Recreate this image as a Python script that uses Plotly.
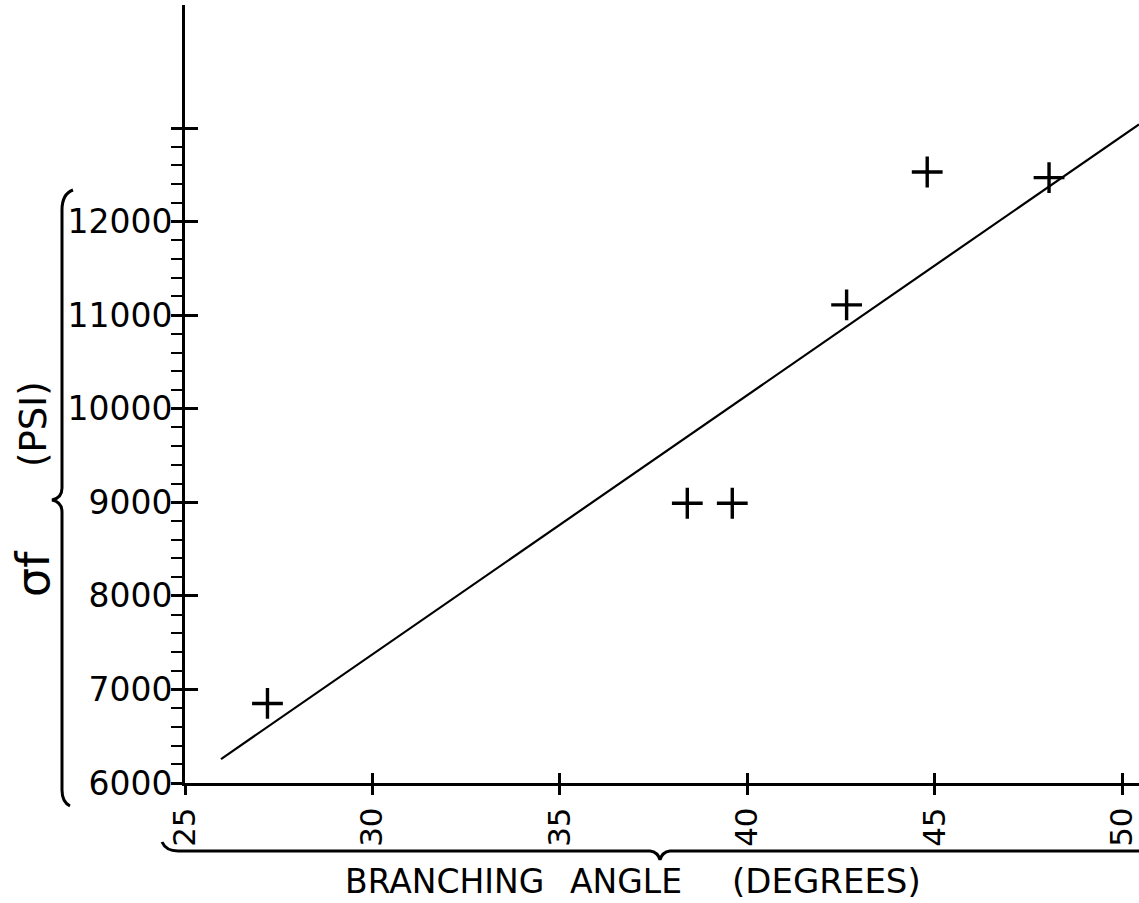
import plotly.graph_objects as go

# ---- data ----
angle_deg = [27.2, 38.4, 39.6, 42.65, 44.8, 48.05]
stress_psi = [6850, 8990, 8990, 11110, 12530, 12470]

fit_angle = [25.96, 50.45]
fit_stress = [6256, 13040]

x_ticks = [25, 30, 35, 40, 45, 50]
x_ticktext = ["25", "30", "35", "40", "45", "50"]
y_ticks = [6000, 7000, 8000, 9000, 10000, 11000, 12000, 13000]
y_ticktext = ["6000", "7000", "8000", "9000", "10000", "11000", "12000", ""]
y_minor = [v for v in range(6200, 13000, 200) if v % 1000 != 0]

X_RANGE = [25, 50.45]
Y_RANGE = [6000, 14315]

# ---- figure geometry (pixels) ----
W, H = 1139, 903
ML, MR, MT, MB = 185, 0, 5, 120
PW, PH = W - ML - MR, H - MT - MB


def px(xp):
    return (xp - ML) / PW


def py(yp):
    return (H - MB - yp) / PH


FONT = "DejaVu Sans"

fig = go.Figure()
fig.add_trace(go.Scatter(x=fit_angle, y=fit_stress, mode="lines",
                         line=dict(color="black", width=2.2),
                         showlegend=False, hoverinfo="skip"))
fig.add_trace(go.Scatter(x=angle_deg, y=stress_psi, mode="markers",
                         marker=dict(symbol="cross-thin", size=22,
                                     line=dict(color="black", width=3.4)),
                         showlegend=False))
# invisible trace to register the overlay axes (for ticks crossing the axis)
fig.add_trace(go.Scatter(x=[angle_deg[0]], y=[stress_psi[0]], xaxis="x2", yaxis="y2",
                         mode="markers", marker=dict(opacity=0),
                         showlegend=False, hoverinfo="skip"))


def path_from(points_cmds):
    out = []
    for cmd, pts in points_cmds:
        coords = " ".join(f"{px(a):.5f},{py(b):.5f}" for a, b in pts)
        out.append(f"{cmd} {coords}")
    return " ".join(out)


left_brace = path_from([
    ("M", [(73, 190)]),
    ("Q", [(62, 194), (62, 210)]),
    ("L", [(62, 488)]),
    ("Q", [(62, 498), (52, 500)]),
    ("Q", [(62, 502), (62, 512)]),
    ("L", [(62, 790)]),
    ("Q", [(62, 802), (70, 806)]),
])
bottom_brace = path_from([
    ("M", [(162, 842)]),
    ("Q", [(166, 851), (178, 851)]),
    ("L", [(650, 851)]),
    ("Q", [(658, 852), (660, 860)]),
    ("Q", [(662, 852), (670, 851)]),
    ("L", [(1139, 851)]),
])
shapes = [
    dict(type="path", path=left_brace, xref="paper", yref="paper",
         line=dict(color="black", width=3)),
    dict(type="path", path=bottom_brace, xref="paper", yref="paper",
         line=dict(color="black", width=3)),
]

annotations = [
    dict(text="BRANCHING", x=px(343), y=py(881), xref="paper", yref="paper",
         xanchor="left", yanchor="middle", showarrow=False,
         font=dict(family=FONT, size=33, color="black")),
    dict(text="ANGLE", x=px(568), y=py(881), xref="paper", yref="paper",
         xanchor="left", yanchor="middle", showarrow=False,
         font=dict(family=FONT, size=33, color="black")),
    dict(text="(DEGREES)", x=px(730), y=py(881), xref="paper", yref="paper",
         xanchor="left", yanchor="middle", showarrow=False,
         font=dict(family=FONT, size=34, color="black")),
    dict(text="σf", x=px(33), y=py(574), xref="paper", yref="paper",
         xanchor="center", yanchor="middle", showarrow=False, textangle=-90,
         font=dict(family=FONT, size=46, color="black")),
    dict(text="(PSI)", x=px(33), y=py(424), xref="paper", yref="paper",
         xanchor="center", yanchor="middle", showarrow=False, textangle=-90,
         font=dict(family=FONT, size=37, color="black")),
]

fig.update_layout(
    width=W, height=H,
    margin=dict(l=ML, r=MR, t=MT, b=MB, pad=0, autoexpand=False),
    paper_bgcolor="white", plot_bgcolor="white",
    showlegend=False,
    shapes=shapes,
    annotations=annotations,
    xaxis=dict(range=X_RANGE, tickmode="array", tickvals=x_ticks, ticktext=x_ticktext,
               ticks="outside", ticklen=9, tickwidth=2.5, tickcolor="black",
               tickangle=-90, tickfont=dict(family=FONT, size=31, color="black"),
               ticklabeloverflow="allow", automargin=False,
               showline=True, linewidth=3, linecolor="black",
               showgrid=False, zeroline=False, fixedrange=True),
    xaxis2=dict(range=X_RANGE, overlaying="x", anchor="y", side="bottom",
                tickmode="array", tickvals=x_ticks, ticks="inside", ticklen=10,
                tickwidth=2.5, tickcolor="black", showticklabels=False,
                automargin=False,
                showline=False, showgrid=False, zeroline=False),
    yaxis=dict(range=Y_RANGE, tickmode="array", tickvals=y_ticks, ticktext=y_ticktext,
               ticks="outside", ticklen=11, tickwidth=2.5, tickcolor="black",
               tickfont=dict(family=FONT, size=33, color="black"),
               ticklabelstandoff=-8, ticklabeloverflow="allow", automargin=False,
               minor=dict(tickmode="array", tickvals=y_minor, ticks="outside",
                          ticklen=11, tickwidth=2, tickcolor="black", showgrid=False),
               showline=True, linewidth=3, linecolor="black",
               showgrid=False, zeroline=False, fixedrange=True),
    yaxis2=dict(range=Y_RANGE, overlaying="y", anchor="x", side="left",
                tickmode="array", tickvals=y_ticks, ticks="inside", ticklen=13,
                tickwidth=2.5, tickcolor="black", showticklabels=False,
                automargin=False,
                showline=False, showgrid=False, zeroline=False),
)

fig.write_html("out.html", config={"displayModeBar": False})

# remove the browser's default 8px body margin so the figure sits at the page origin
with open("out.html", "r", encoding="utf-8") as f:
    html = f.read()
html = html.replace("<body>", '<body style="margin:0;padding:0;overflow:hidden;">', 1)
with open("out.html", "w", encoding="utf-8") as f:
    f.write(html)
